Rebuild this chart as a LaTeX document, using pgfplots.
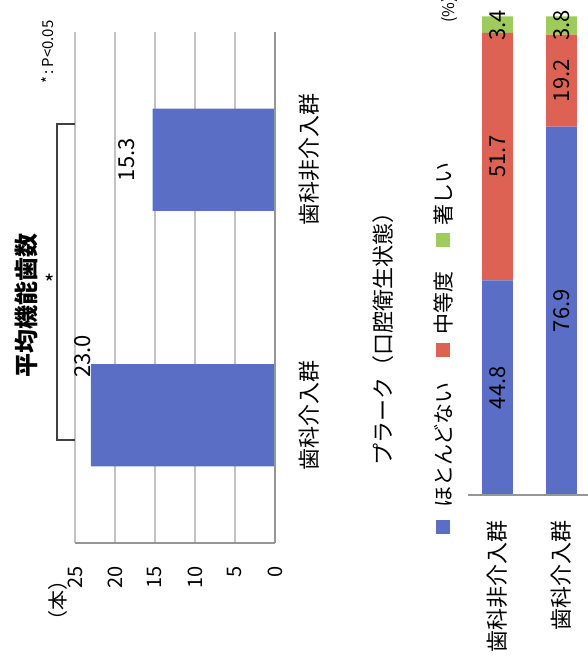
\documentclass[border=0pt]{standalone}
\usepackage{pgfplots}
\pgfplotsset{compat=1.18}
\usepackage{fontspec}
\setmainfont{Noto Sans CJK JP}
\definecolor{cblue}{RGB}{90,110,198}
\definecolor{cred}{RGB}{221,98,84}
\definecolor{cgreen}{RGB}{158,204,92}
\definecolor{gridc}{RGB}{195,195,195}
\definecolor{axc}{RGB}{150,150,150}
\begin{document}
\begin{tikzpicture}
\useasboundingbox (0,0) rectangle (294pt,-335.5pt);
\clip (0,0) rectangle (294pt,-335.5pt);
% ---------- left chart ----------
\begin{axis}[
  at={(87.5pt,-143.75pt)}, anchor=center,
  scale only axis, width=100pt, height=255.5pt,
  xbar, bar width=0.4, x dir=reverse,
  xmin=0, xmax=25, ymin=-0.5, ymax=1.5,
  xtick={0,5,...,25},
  ytick={0,1}, yticklabels={歯科介入群,歯科非介入群},
  yticklabel pos=right,
  axis line style={draw=none},
  xmajorgrids, major grid style={gridc, line width=0.6pt},
  tick style={draw=none},
  xticklabel style={rotate=90, anchor=east, font=\fontsize{10}{12}\selectfont},
  xticklabel shift=8pt,
  yticklabel style={rotate=90, anchor=north, font=\fontsize{11}{13}\selectfont},
  yticklabel shift=4pt,
  /pgf/number format/assume math mode=true,
  clip=false,
]
\addplot[fill=cblue, draw=none] coordinates {(23.0,0) (15.3,1)};
\draw[axc, line width=1pt] (axis cs:0,-0.5) -- (axis cs:0,1.5);
\draw[axc, line width=1pt] (axis cs:0,-0.5) -- (axis cs:25,-0.5);
\coordinate (a1) at (axis cs:24.1,0.23);
\coordinate (a2) at (axis cs:18.5,1.0);
\end{axis}
\node[rotate=90, font=\fontsize{11}{13}\selectfont] at (a1) {23.0};
\node[rotate=90, font=\fontsize{11}{13}\selectfont] at (a2) {15.3};
% ---------- right chart ----------
\begin{axis}[
  at={(265.375pt,-127.75pt)}, anchor=center,
  scale only axis, width=62.75pt, height=239.5pt,
  ybar stacked, bar width=0.48,
  xmin=-0.46, xmax=1.5, ymin=0, ymax=100,
  xtick={0,1}, xticklabels={歯科非介入群,歯科介入群},
  ytick=\empty,
  axis line style={draw=none}, tick style={draw=none},
  xticklabel style={rotate=90, anchor=east, font=\fontsize{11}{13}\selectfont},
  xticklabel shift=9pt,
  clip=false,
]
\addplot[fill=cblue, draw=none] coordinates {(0,44.8) (1,76.9)};
\addplot[fill=cred, draw=none] coordinates {(0,51.7) (1,19.2)};
\addplot[fill=cgreen, draw=none] coordinates {(0,3.4) (1,3.8)};
\coordinate (b0) at (axis cs:-0.46,0);
\coordinate (b1) at (axis cs:1.5,0);
\coordinate (p1) at (axis cs:0,22.4);
\coordinate (p2) at (axis cs:0,70.65);
\coordinate (p3) at (axis cs:0,98.1);
\coordinate (q1) at (axis cs:1,38.45);
\coordinate (q2) at (axis cs:1,86.5);
\coordinate (q3) at (axis cs:1,98.0);
\end{axis}
\draw[axc, line width=1pt] (b0) -- (b1);
\node[rotate=90, font=\fontsize{11}{13}\selectfont] at (p1) {44.8};
\node[rotate=90, font=\fontsize{11}{13}\selectfont] at (p2) {51.7};
\node[rotate=90, font=\fontsize{11}{13}\selectfont] at (p3) {3.4};
\node[rotate=90, font=\fontsize{11}{13}\selectfont] at (q1) {76.9};
\node[rotate=90, font=\fontsize{11}{13}\selectfont] at (q2) {19.2};
\node[rotate=90, font=\fontsize{11}{13}\selectfont] at (q3) {3.8};
% ---------- annotations ----------
\draw[black!75, line width=1pt] (37.5pt,-62pt) -- (28.5pt,-62pt) -- (28.5pt,-220pt) -- (37.5pt,-220pt);
\node[rotate=90, font=\bfseries\fontsize{12}{14}\selectfont] at (13pt,-152.5pt) {平均機能歯数};
\node[font=\fontsize{11}{13}\selectfont] at (25pt,-141.5pt) {*};
\node[rotate=90, font=\fontsize{7.5}{9}\selectfont] at (24pt,-26pt) {*\,:\,P<0.05};
\node[rotate=90, font=\fontsize{10}{12}\selectfont] at (29pt,-300pt) {（本）};
\node[rotate=90, font=\fontsize{11}{13}\selectfont] at (191.5pt,-166.5pt) {プラーク（口腔衛生状態）};
\node[rotate=90, anchor=west, inner sep=1pt, font=\fontsize{8}{10}\selectfont] at (225pt,-12.5pt) {(\%)};
% legend
\node[rotate=90, anchor=west, inner sep=0pt, font=\fontsize{10.5}{12}\selectfont] at (221.5pt,-267pt)
  {\textcolor{cblue}{\rule[0.5pt]{7pt}{7pt}}\hspace{6pt}ほとんどない\hspace{13pt}\textcolor{cred}{\rule[0.5pt]{7pt}{7pt}}\hspace{4pt}中等度\hspace{12.5pt}\textcolor{cgreen}{\rule[0.5pt]{7pt}{7pt}}\hspace{3.5pt}著しい};
\end{tikzpicture}
\end{document}
